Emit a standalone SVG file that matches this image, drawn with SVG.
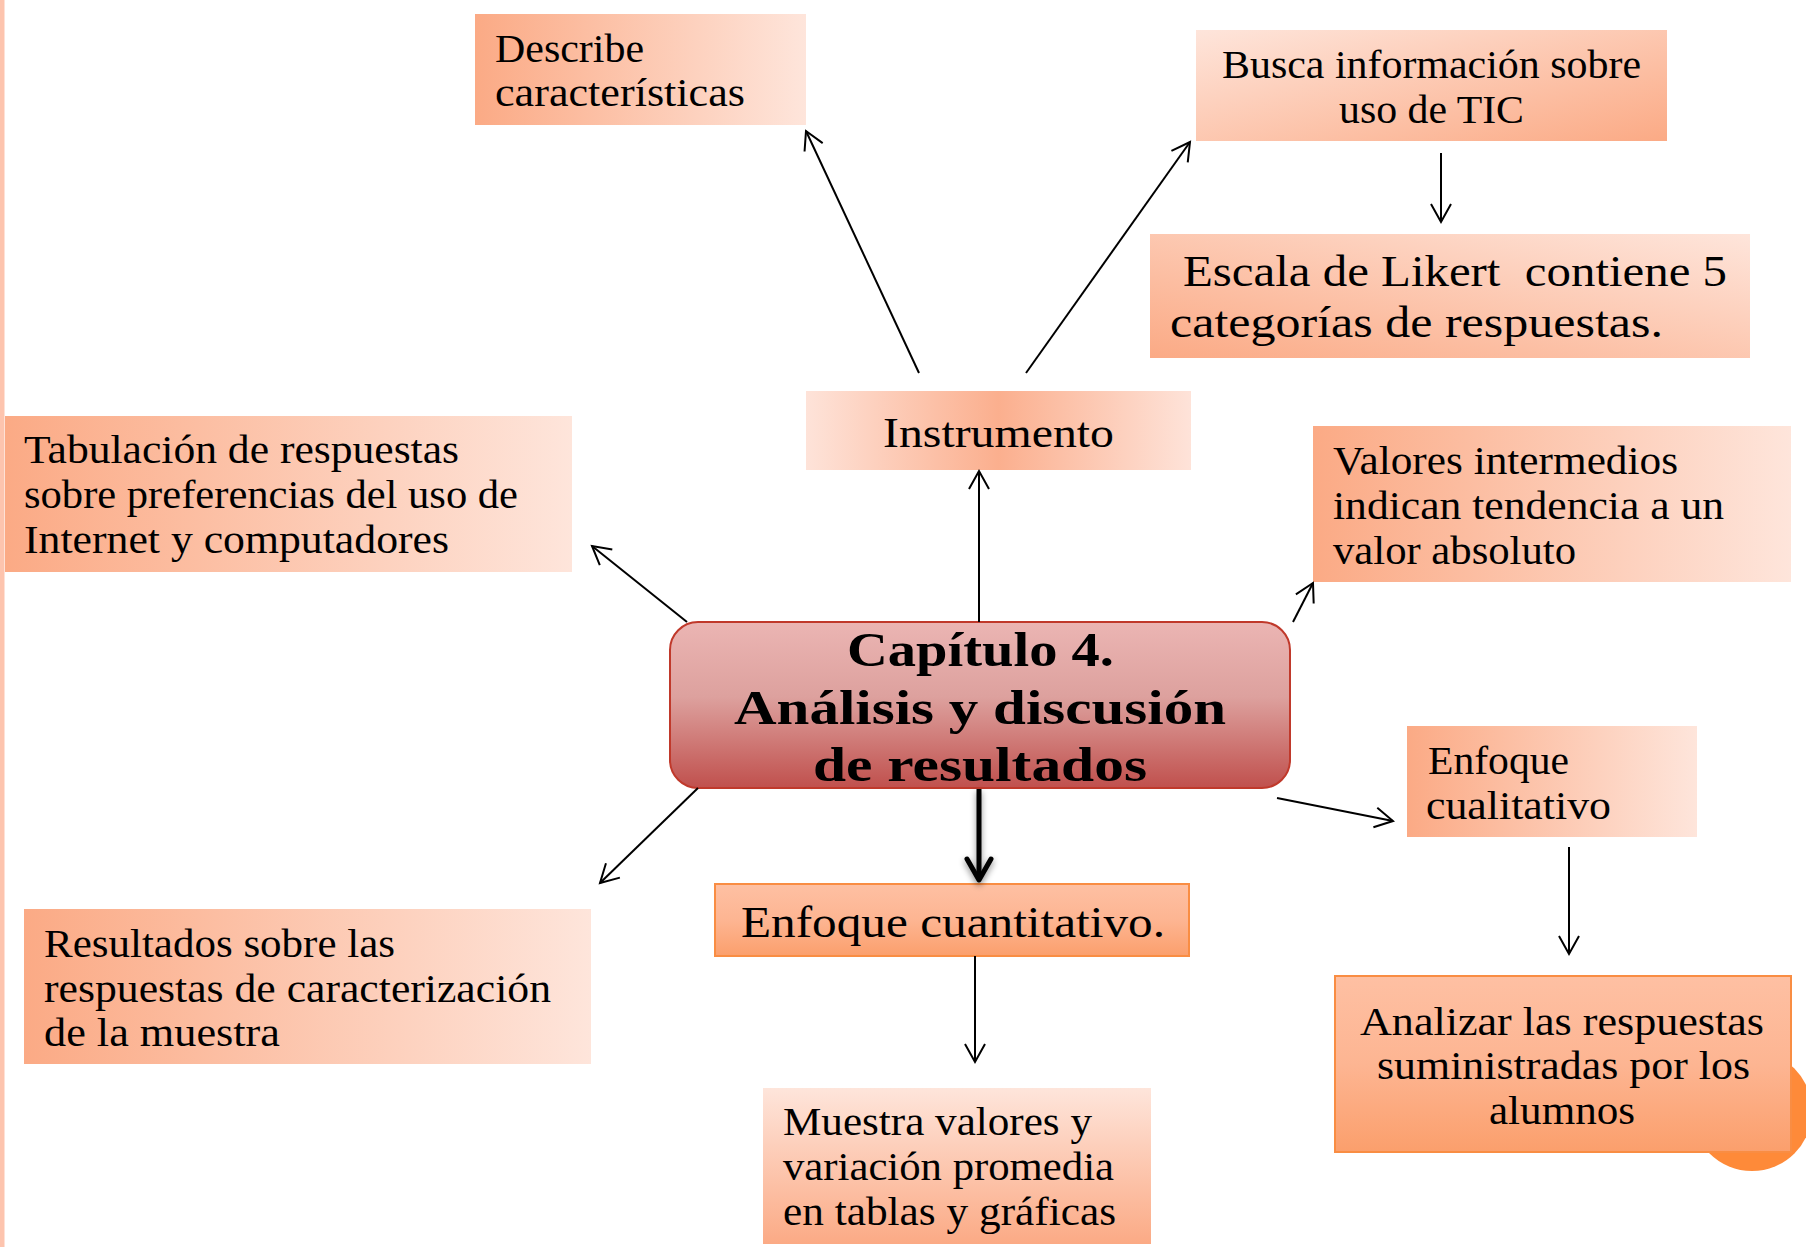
<svg xmlns="http://www.w3.org/2000/svg" width="1806" height="1247" viewBox="0 0 1806 1247">
<style>
  .t { font-family: "Liberation Serif", "DejaVu Serif", serif; font-size: 40px; fill: #000; }
  .big { font-size: 45px; }
  .bold { font-weight: bold; font-size: 48px; }
  .c { fill: none; stroke: #000; stroke-width: 2; }
  .ob { stroke: #F98D43; stroke-width: 2; }
</style>
<defs>
  <linearGradient id="gH" x1="0" y1="0" x2="1" y2="0">
    <stop offset="0" stop-color="#FBAA85"/>
    <stop offset="1" stop-color="#FEE5DB"/>
  </linearGradient>
  <linearGradient id="gTLBR" x1="0" y1="0" x2="1" y2="1">
    <stop offset="0" stop-color="#FEE5DB"/>
    <stop offset="1" stop-color="#FBAA85"/>
  </linearGradient>
  <linearGradient id="gBLTR" x1="0" y1="1" x2="1" y2="0">
    <stop offset="0" stop-color="#FBAA85"/>
    <stop offset="1" stop-color="#FEE5DB"/>
  </linearGradient>
  <linearGradient id="gV" x1="0" y1="0" x2="0" y2="1">
    <stop offset="0" stop-color="#FEE5DB"/>
    <stop offset="1" stop-color="#FBAA85"/>
  </linearGradient>
  <linearGradient id="gMid" x1="0" y1="0" x2="1" y2="0">
    <stop offset="0" stop-color="#FEE3D9"/>
    <stop offset="0.5" stop-color="#FBAF8E"/>
    <stop offset="1" stop-color="#FEE3D9"/>
  </linearGradient>
  <linearGradient id="gOr" x1="0" y1="0" x2="0" y2="1">
    <stop offset="0" stop-color="#FEC0A3"/>
    <stop offset="0.5" stop-color="#FDB592"/>
    <stop offset="1" stop-color="#FB9F6C"/>
  </linearGradient>
  <linearGradient id="gRed" x1="0" y1="0" x2="0" y2="1">
    <stop offset="0" stop-color="#EBB5B3"/>
    <stop offset="0.45" stop-color="#DDA19E"/>
    <stop offset="1" stop-color="#C0504D"/>
  </linearGradient>
  <marker id="ah" markerUnits="userSpaceOnUse" viewBox="-24 -14 28 28" refX="0" refY="0" markerWidth="28" markerHeight="28" orient="auto">
    <path d="M-18,-10 L0,0 L-18,10" fill="none" stroke="#000" stroke-width="2"/>
  </marker>
  <marker id="ahT" markerUnits="userSpaceOnUse" viewBox="-28 -18 34 36" refX="0" refY="0" markerWidth="34" markerHeight="36" orient="auto">
    <path d="M-21,-12 L0,0 L-21,12" fill="none" stroke="#000" stroke-width="5" stroke-linejoin="round" stroke-linecap="round"/>
  </marker>
  <filter id="sh" filterUnits="userSpaceOnUse" x="940" y="770" width="80" height="140">
    <feDropShadow dx="0" dy="3" stdDeviation="3" flood-color="#000" flood-opacity="0.45"/>
  </filter>
</defs>

<rect x="0" y="0" width="1806" height="1247" fill="#fff"/>
<rect x="0" y="0" width="4.5" height="1247" fill="#FDC4AE"/>

<g id="describe">
  <rect x="475" y="14" width="331" height="111" fill="url(#gH)"/>
  <text class="t" x="495" y="62" textLength="149" lengthAdjust="spacingAndGlyphs">Describe</text>
  <text class="t" x="495" y="106" textLength="250" lengthAdjust="spacingAndGlyphs">características</text>
</g>

<g id="busca">
  <rect x="1196" y="30" width="471" height="111" fill="url(#gTLBR)"/>
  <text class="t" x="1222" y="78" textLength="419" lengthAdjust="spacingAndGlyphs">Busca información sobre</text>
  <text class="t" x="1339" y="123" textLength="185" lengthAdjust="spacingAndGlyphs">uso de TIC</text>
</g>

<g id="escala">
  <rect x="1150" y="234" width="600" height="124" fill="url(#gBLTR)"/>
  <text class="t big" x="1183" y="286" textLength="544" lengthAdjust="spacingAndGlyphs" xml:space="preserve">Escala de Likert  contiene 5</text>
  <text class="t big" x="1170" y="337" textLength="493" lengthAdjust="spacingAndGlyphs">categorías de respuestas.</text>
</g>

<g id="instrumento">
  <rect x="806" y="391" width="385" height="79" fill="url(#gMid)"/>
  <text class="t" style="font-size:43px" x="883" y="447" textLength="231" lengthAdjust="spacingAndGlyphs">Instrumento</text>
</g>

<g id="tabulacion">
  <rect x="5" y="416" width="567" height="156" fill="url(#gH)"/>
  <text class="t" x="24" y="463" textLength="435" lengthAdjust="spacingAndGlyphs">Tabulación de respuestas</text>
  <text class="t" x="24" y="508" textLength="494" lengthAdjust="spacingAndGlyphs">sobre preferencias del uso de</text>
  <text class="t" x="24" y="553" textLength="425" lengthAdjust="spacingAndGlyphs">Internet y computadores</text>
</g>

<g id="valores">
  <rect x="1313" y="426" width="478" height="156" fill="url(#gH)"/>
  <text class="t" x="1333" y="474" textLength="345" lengthAdjust="spacingAndGlyphs">Valores intermedios</text>
  <text class="t" x="1333" y="519" textLength="391" lengthAdjust="spacingAndGlyphs">indican tendencia a un</text>
  <text class="t" x="1333" y="564" textLength="243" lengthAdjust="spacingAndGlyphs">valor absoluto</text>
</g>

<g id="capitulo">
  <rect x="670" y="622" width="620" height="166" rx="28" ry="28" fill="url(#gRed)" stroke="#C0392B" stroke-width="2"/>
  <text class="t bold" x="847" y="666" textLength="267" lengthAdjust="spacingAndGlyphs">Capítulo 4.</text>
  <text class="t bold" x="734" y="724" textLength="492" lengthAdjust="spacingAndGlyphs">Análisis y discusión</text>
  <text class="t bold" x="813" y="781" textLength="334" lengthAdjust="spacingAndGlyphs">de resultados</text>
</g>

<g id="enfoque-cualitativo">
  <rect x="1407" y="726" width="290" height="111" fill="url(#gH)"/>
  <text class="t" x="1428" y="774" textLength="141" lengthAdjust="spacingAndGlyphs">Enfoque</text>
  <text class="t" x="1426" y="819" textLength="185" lengthAdjust="spacingAndGlyphs">cualitativo</text>
</g>

<g id="enfoque-cuantitativo">
  <rect x="715" y="884" width="474" height="72" fill="url(#gOr)" class="ob"/>
  <text class="t big" x="741" y="937" textLength="424" lengthAdjust="spacingAndGlyphs">Enfoque cuantitativo.</text>
</g>

<g id="resultados">
  <rect x="24" y="909" width="567" height="155" fill="url(#gH)"/>
  <text class="t" x="44" y="957" textLength="351" lengthAdjust="spacingAndGlyphs">Resultados sobre las</text>
  <text class="t" x="44" y="1002" textLength="507" lengthAdjust="spacingAndGlyphs">respuestas de caracterización</text>
  <text class="t" x="44" y="1046" textLength="236" lengthAdjust="spacingAndGlyphs">de la muestra</text>
</g>

<g id="muestra">
  <rect x="763" y="1088" width="388" height="156" fill="url(#gV)"/>
  <text class="t" x="783" y="1135" textLength="309" lengthAdjust="spacingAndGlyphs">Muestra valores y</text>
  <text class="t" x="783" y="1180" textLength="331" lengthAdjust="spacingAndGlyphs">variación promedia</text>
  <text class="t" x="783" y="1225" textLength="333" lengthAdjust="spacingAndGlyphs">en tablas y gráficas</text>
</g>

<circle cx="1752" cy="1111" r="60" fill="#FE8A39"/>

<g id="analizar">
  <rect x="1335" y="976" width="456" height="176" fill="url(#gOr)" class="ob"/>
  <text class="t" x="1360" y="1035" textLength="404" lengthAdjust="spacingAndGlyphs">Analizar las respuestas</text>
  <text class="t" x="1377" y="1079" textLength="373" lengthAdjust="spacingAndGlyphs">suministradas por los</text>
  <text class="t" x="1489" y="1124" textLength="146" lengthAdjust="spacingAndGlyphs">alumnos</text>
</g>

<g id="connectors">
  <line class="c" x1="979" y1="622" x2="979" y2="471" marker-end="url(#ah)"/>
  <line class="c" x1="919" y1="373" x2="806" y2="131" marker-end="url(#ah)"/>
  <line class="c" x1="1026" y1="373" x2="1190" y2="142" marker-end="url(#ah)"/>
  <line class="c" x1="1441" y1="153" x2="1441" y2="222" marker-end="url(#ah)"/>
  <line class="c" x1="687" y1="622" x2="592" y2="546" marker-end="url(#ah)"/>
  <line class="c" x1="1293" y1="622" x2="1313" y2="583" marker-end="url(#ah)"/>
  <line class="c" x1="1277" y1="798" x2="1393" y2="821" marker-end="url(#ah)"/>
  <line class="c" x1="1569" y1="847" x2="1569" y2="954" marker-end="url(#ah)"/>
  <line class="c" x1="698" y1="788" x2="600" y2="883" marker-end="url(#ah)"/>
  <line class="c" x1="975" y1="956" x2="975" y2="1062" marker-end="url(#ah)"/>
  <g filter="url(#sh)">
    <line x1="979" y1="789" x2="979" y2="880" stroke="#000" stroke-width="5" marker-end="url(#ahT)"/>
  </g>
</g>
</svg>
